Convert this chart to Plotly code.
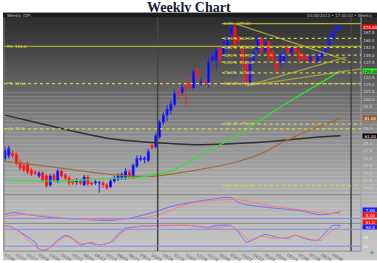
import plotly.graph_objects as go

# ---------------- data ----------------
idx = list(range(90))
opens = [40,43,45,44,36,33,34,28,26,22, 25,22,13,23,17,27,23,20,17,16,
         17,13,21,15,15,15,15,13,11,17, 19,20,20,26,21,32,39,39,38,53,
         52,62,77,84,89,95,107,107,114,115, 112,128,117,118,117,140,140,152,145,153,
         166,173,163,152,138,117,140,150,162,149, 158,148,138,138,138,154,148,153,149,145,
         144,140,141,138,143,146,153,162,170,172]
highs = [52,53,48,47,39,35,37,30,28,27, 27,24,24,25,29,29,25,22,19,20,
         19,23,23,17,18,17,17,15,19,22, 25,26,30,29,35,43,43,42,50,55,
         66,79,87,94,99,110,112,115,117,123, 130,132,122,120,142,148,155,155,160,166,
         177,176,165,155,140,142,151,165,164,162, 160,150,142,148,150,156,155,155,151,147,
         146,145,143,148,150,154,165,171,175,176]
lows = [37,40,41,33,28,26,24,22,23,20, 16,10,11,16,15,20,18,13,13,13,
        13,12,12,12,13,5,10,8,10,15, 17,18,18,19,19,30,37,35,36,49,
        50,60,74,78,85,93,100,104,94,110, 110,120,114,114,112,138,130,136,142,150,
        164,150,155,130,114,114,138,147,147,146, 138,138,126,134,136,145,146,147,138,139,
        138,138,136,136,141,144,151,160,168,171]
closes = [48,50,43,35,30,28,26,24,25,25, 18,12,22,18,27,22,20,15,15,17,
          15,21,14,14,16,15.5,13,10,17,20, 22,24,27,21,33,40,40,40,47,51,
          63,77,84,90,95,106,106,112,112,114, 128,123,118,116,138,144,151,141,157,163,
          174,154,160,138,116,140,148,162,150,158, 142,142,130,146,147,148,153,149,141,142,
          141,143,138,146,148,152,163,169,173,174]

green_idx = [0,15,25,36,40,44,49,54,60,73,89]
green_val = [18,17,19,21,24,27,37,48,60,92,129]
brown_idx = [0,7,15,25,33,40,49,60,68,75,89]
brown_val = [37,34,30,25,22,22,27,35,45,59,81]
dark_idx = [0,10,20,28,40,49,60,73,81,89]
dark_val = [84,75,66,60,56,54,55,58,61,63]

macd_idx = [0,2,6,12,21,28,34,39,45,49,54,60,62,70,78,83,85,89]
macd_val = [4,6,4,1,-1,-2,1,6,13,16,19,21,16,11,8,4,4,7]
sig_idx = [0,4,12,21,28,34,40,48,54,60,62,70,78,83,89]
sig_val = [2,4,2,-1,-1,0,3,14,18,19,19,13,9,6,5]

k_idx = [0,2,5,8,9,11,12,14,16,17.5,20,22,24,25,28,30,32,36,41,49,54,56,60,62,64,66,69,72,75,77,80,83,85,87,89]
k_val = [94,87,62,34,9,6,16,41,59,52,24,31,27,24,34,62,84,91,94,94,87,94,94,69,34,45,62,52,48,59,45,41,69,94,94]
d_idx = [0,3,6,9,11,13,16,18,21,23,25,29,31,34,38,49,54,60,62,65,68,71,75,77,81,84,86,89]
d_val = [94,80,45,9,9,24,55,45,27,34,24,38,69,87,91,94,84,91,76,38,55,48,52,59,45,41,69,91]

fib_levels = [177,162,153,145,138,127,116,75,12]
fib_labels = ["0.0%  177.00","23.6%  162.00","38.2%  153.00","50.0%  145.00","61.8%  138.00",
              "78.6%  127.00","100.0%  116.00","161.8%  75.00","261.8%  12.00"]
fib_start = 57.5
pivot_levels = [154,116,70]
pivot_labels = ["R1: 154.0","PP: 116.0","S1: 70.0"]
trend_x = [[61,90.5],[64.3,90.5],[64.3,94.4]]
trend_y = [[177,140],[114,143],[114,131]]
marker_idx = [40.5, 91.8]
macd_levels = [0]
stoch_levels = [20,80]
price_ticks = [10,17.5,25,32.5,40,47.5,55,70,92.5,100,107.5,115,122.5,137.5,145,152.5,160,167.5]
tick_idx = list(range(0,90,3))
tick_text = ["01/06","01/27","02/17","03/09","03/30","04/20","05/11","06/01","06/22","07/13",
             "08/03","08/24","09/14","10/05","10/26","11/16","12/07","12/28","01/18","02/08",
             "03/01","03/22","04/12","05/03","05/24","06/14","07/05","07/26","08/16","09/06"]

# --------------- layout helpers ---------------
W, H = 377, 263
def py(p):  # pixel y -> paper
    return 1 - p / H
def px(p):
    return p / W

X0, X1 = 3, 361
xr = [(X0 - 4) / 3.78, (X1 - 4) / 3.78]

fig = go.Figure()

fig.add_trace(go.Candlestick(
    x=idx, open=opens, high=highs, low=lows, close=closes,
    increasing=dict(line=dict(color="#2020ff", width=1), fillcolor="#0000ff"),
    decreasing=dict(line=dict(color="#ff2020", width=1), fillcolor="#ff0000"),
    whiskerwidth=0, xaxis="x", yaxis="y", showlegend=False, hoverinfo="skip"))

fig.add_trace(go.Scatter(x=dark_idx, y=dark_val, mode="lines", line=dict(color="#303030", width=1.5, shape="spline"), xaxis="x", yaxis="y", showlegend=False))
fig.add_trace(go.Scatter(x=brown_idx, y=brown_val, mode="lines", line=dict(color="#a5683a", width=1.2, shape="spline"), xaxis="x", yaxis="y", showlegend=False))
fig.add_trace(go.Scatter(x=green_idx, y=green_val, mode="lines", line=dict(color="#30e030", width=1.2, shape="spline"), xaxis="x", yaxis="y", showlegend=False))

for tx, ty in zip(trend_x, trend_y):
    fig.add_trace(go.Scatter(x=tx, y=ty, mode="lines", line=dict(color="#a0a040", width=1.3), xaxis="x", yaxis="y", showlegend=False))

fig.add_trace(go.Scatter(x=macd_idx, y=macd_val, mode="lines", line=dict(color="#7070ff", width=1, shape="spline"), xaxis="x", yaxis="y2", showlegend=False))
fig.add_trace(go.Scatter(x=sig_idx, y=sig_val, mode="lines", line=dict(color="#ff7a7a", width=1, shape="spline"), xaxis="x", yaxis="y2", showlegend=False))
fig.add_trace(go.Scatter(x=k_idx, y=k_val, mode="lines", line=dict(color="#7070ff", width=1, shape="spline", smoothing=0.5), xaxis="x", yaxis="y3", showlegend=False))
fig.add_trace(go.Scatter(x=d_idx, y=d_val, mode="lines", line=dict(color="#ff7a7a", width=1, shape="spline", smoothing=0.5), xaxis="x", yaxis="y3", showlegend=False))

shapes = []
# gradient background
stops = [(13, 0x2a), (30, 0x36), (60, 0x4e), (100, 0x70), (140, 0x90), (180, 0xa8), (220, 0xbb), (263, 0xc8)]
def gray_at(yp):
    for (a, ca), (b, cb) in zip(stops[:-1], stops[1:]):
        if a <= yp <= b:
            return ca + (cb - ca) * (yp - a) / (b - a)
    return stops[-1][1]
N = 62
step = (263 - 13) / N
for i in range(N):
    y0 = 13 + i * step
    g = int(round(gray_at(y0 + step / 2)))
    col = "#%02x%02x%02x" % (g, g, g)
    shapes.append(dict(type="rect", xref="paper", yref="paper", x0=px(2), x1=1, y0=py(y0 + step + 0.3), y1=py(y0),
                       fillcolor=col, line=dict(width=0), layer="below"))
# header bar
shapes.append(dict(type="rect", xref="paper", yref="paper", x0=px(2), x1=1, y0=py(17.5), y1=py(13),
                   fillcolor="#1c1c1c", line=dict(width=0), layer="below"))
# frame / separators
for yy in [197, 226, 254]:
    shapes.append(dict(type="line", xref="paper", yref="paper", x0=px(X0), x1=px(X1), y0=py(yy), y1=py(yy),
                       line=dict(color="#8a8a8a", width=1)))
shapes.append(dict(type="line", xref="paper", yref="paper", x0=px(X0), x1=px(X0), y0=py(254), y1=py(17.5),
                   line=dict(color="#7a7a7a", width=1)))
shapes.append(dict(type="line", xref="paper", yref="paper", x0=px(X1), x1=px(X1), y0=py(254), y1=py(17.5),
                   line=dict(color="#9a9a9a", width=1)))
for m in marker_idx:
    shapes.append(dict(type="line", xref="x", yref="paper", x0=m, x1=m, y0=py(254), y1=py(17.5),
                       line=dict(color="#444444", width=1.5)))
# pivot lines (full width)
for i, lv in enumerate(pivot_levels):
    shapes.append(dict(type="line", xref="x", yref="y", x0=xr[0], x1=xr[1], y0=lv, y1=lv,
                       line=dict(color="#a8a828" if i == 0 else "#d0d040", width=1.3, dash="solid" if i == 0 else "dot")))
# fib lines
for i, lv in enumerate(fib_levels):
    shapes.append(dict(type="line", xref="x", yref="y", x0=fib_start, x1=xr[1], y0=lv, y1=lv,
                       line=dict(color="#b0b035" if i == 0 else "#d0d040", width=1.2, dash="solid" if i == 0 else "dot")))
# indicator levels
for lv in macd_levels:
    shapes.append(dict(type="line", xref="x", yref="y2", x0=xr[0], x1=xr[1], y0=lv, y1=lv, line=dict(color="#8c8cf0", width=1)))
for lv in stoch_levels:
    shapes.append(dict(type="line", xref="x", yref="y3", x0=xr[0], x1=xr[1], y0=lv, y1=lv, line=dict(color="#8c8cf0", width=1)))

ann = []
ann.append(dict(text="<b>Weekly Chart</b>", x=0.5, y=py(7.5), xref="paper", yref="paper", showarrow=False,
                font=dict(family="Liberation Serif", size=14, color="#1a1a30"), xanchor="center", yanchor="middle"))
ann.append(dict(text="Weekly (DP) ", x=px(4), y=py(15.2), xref="paper", yref="paper", showarrow=False,
                font=dict(family="DejaVu Sans", size=4, color="#bbbbbb"), xanchor="left", yanchor="middle"))
ann.append(dict(text="03/08/2013 • 17:00:00 • Weekly", x=px(375), y=py(15.2), xref="paper", yref="paper", showarrow=False,
                font=dict(family="DejaVu Sans", size=4, color="#bbbbbb"), xanchor="right", yanchor="middle"))
for lv, lb in zip(pivot_levels, pivot_labels):
    ann.append(dict(text=lb, x=px(4), y=lv, xref="paper", yref="y", showarrow=False,
                    font=dict(family="DejaVu Sans", size=4, color="#d8d850"), xanchor="left", yanchor="middle"))
for lv, lb in zip(fib_levels, fib_labels):
    ann.append(dict(text=lb, x=fib_start, y=lv, xref="x", yref="y", showarrow=False,
                    font=dict(family="DejaVu Sans", size=4, color="#d8d850"), xanchor="left", yanchor="middle"))
# right side value boxes
def box(yref, yv, txt, bg, fg="#ffffff"):
    ann.append(dict(text=txt, x=px(X1 + 0.5), y=yv, xref="paper", yref=yref, showarrow=False,
                    font=dict(family="DejaVu Sans", size=4, color=fg), xanchor="left", yanchor="middle",
                    bgcolor=bg, borderpad=0, width=15, height=4))
box("y", closes[-1], "%.2f" % closes[-1], "#ff1010")
box("y", green_val[-1], "%.2f" % green_val[-1], "#30f030", "#000000")
box("y", brown_val[-1], "%.2f" % brown_val[-1], "#9a5a2a")
box("y", dark_val[-1], "%.2f" % dark_val[-1], "#000000")
box("paper", py(212.5), "%.2f" % macd_val[-1], "#2020ff")
box("paper", py(217.3), "%.2f" % sig_val[-1], "#ff1010")
box("paper", py(224.8), "%.1f" % d_val[-1], "#ff1010")
box("paper", py(229.6), "%.1f" % k_val[-1], "#2020ff")
ann.append(dict(text="+", x=px(372), y=py(256), xref="paper", yref="paper", showarrow=False,
                font=dict(family="DejaVu Sans", size=7, color="#10a010"), xanchor="center", yanchor="middle"))

fig.update_layout(
    width=W, height=H, margin=dict(l=0, r=0, t=0, b=0),
    paper_bgcolor="#ffffff", plot_bgcolor="rgba(0,0,0,0)",
    shapes=shapes, annotations=ann, showlegend=False,
    xaxis=dict(domain=[px(X0), px(X1)], range=xr, anchor="y3", rangeslider=dict(visible=False),
               showgrid=False, zeroline=False, showline=False,
               tickmode="array", tickvals=tick_idx, ticktext=tick_text, ticks="",
               tickfont=dict(family="DejaVu Sans", size=4, color="#555555")),
    yaxis=dict(domain=[py(197), py(17.5)], range=[3, 183.5], side="right", anchor="free", position=px(X1) + 0.003,
               showgrid=False, zeroline=False, showline=False, ticks="",
               tickmode="array", tickvals=price_ticks, ticktext=["%.1f" % t for t in price_ticks],
               tickfont=dict(family="DejaVu Sans", size=4, color="#d0d0d0")),
    yaxis2=dict(domain=[py(226), py(197)], range=[-5, 24], side="right", anchor="free", position=px(X1) + 0.003,
                showgrid=False, zeroline=False, showline=False, showticklabels=False),
    yaxis3=dict(domain=[py(254), py(226)], range=[2.3, 101.2], side="right", anchor="free", position=px(X1) + 0.003,
                showgrid=False, zeroline=False, showline=False, ticks="",
                tickmode="array", tickvals=[20, 50], ticktext=["20", "50"],
                tickfont=dict(family="DejaVu Sans", size=4, color="#eeeeee")),
)

fig.write_html("out.html")
